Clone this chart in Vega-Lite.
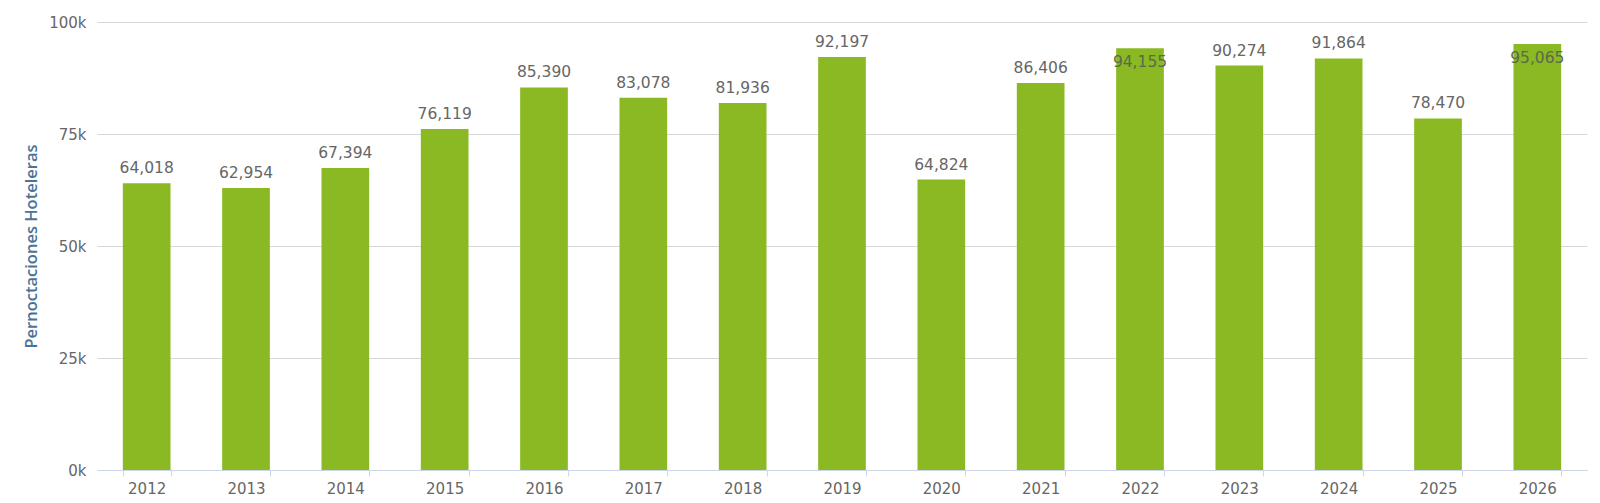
{
  "$schema": "https://vega.github.io/schema/vega-lite/v6.json",
  "autosize": {"type": "none"},
  "width": 1490,
  "height": 448,
  "padding": {"left": 97, "top": 22, "right": 13, "bottom": 33},
  "background": "white",
  "config": {"view": {"stroke": null}},
  "data": {"values": [
    {"year": "2012", "value": 64018},
    {"year": "2013", "value": 62954},
    {"year": "2014", "value": 67394},
    {"year": "2015", "value": 76119},
    {"year": "2016", "value": 85390},
    {"year": "2017", "value": 83078},
    {"year": "2018", "value": 81936},
    {"year": "2019", "value": 92197},
    {"year": "2020", "value": 64824},
    {"year": "2021", "value": 86406},
    {"year": "2022", "value": 94155},
    {"year": "2023", "value": 90274},
    {"year": "2024", "value": 91864},
    {"year": "2025", "value": 78470},
    {"year": "2026", "value": 95065}
  ]},
  "encoding": {
    "x": {
      "field": "year", "type": "ordinal",
      "scale": {"paddingInner": 0.52, "paddingOuter": 0.26},
      "axis": {
        "title": null, "labelAngle": 0, "labelFont": "DejaVu Sans", "labelFontSize": 15,
        "labelColor": "#666666", "labelPadding": 5, "domainColor": "#ccd6eb", "tickColor": "#ccd6eb",
        "tickBand": "extent", "tickSize": 6, "grid": false
      }
    },
    "y": {
      "field": "value", "type": "quantitative",
      "scale": {"domain": [0, 100000], "nice": false},
      "axis": {
        "title": "Pernoctaciones Hoteleras", "titleFont": "Open Sans", "titleFontSize": 16.5,
        "titleFontWeight": 600, "titleColor": "#4a7399", "titlePadding": 9,
        "values": [0, 25000, 50000, 75000, 100000],
        "labelExpr": "(datum.value/1000) + 'k'",
        "labelFont": "DejaVu Sans", "labelFontSize": 15, "labelColor": "#666666", "labelPadding": 11,
        "ticks": false, "domain": false, "gridColor": "#d8d8d8", "gridWidth": 1
      }
    }
  },
  "layer": [
    {"mark": {"type": "bar", "color": "#8ab923"}},
    {
      "transform": [{"filter": "datum.value < 93000"}],
      "mark": {"type": "text", "font": "DejaVu Sans", "fontSize": 15.5, "color": "#666666", "baseline": "middle", "dy": -15},
      "encoding": {"text": {"field": "value", "type": "quantitative", "format": ","}}
    },
    {
      "transform": [{"filter": "datum.value >= 93000"}],
      "mark": {"type": "text", "font": "DejaVu Sans", "fontSize": 15.5, "color": "#5a6b4a", "baseline": "middle", "dy": 14},
      "encoding": {"text": {"field": "value", "type": "quantitative", "format": ","}}
    }
  ]
}
